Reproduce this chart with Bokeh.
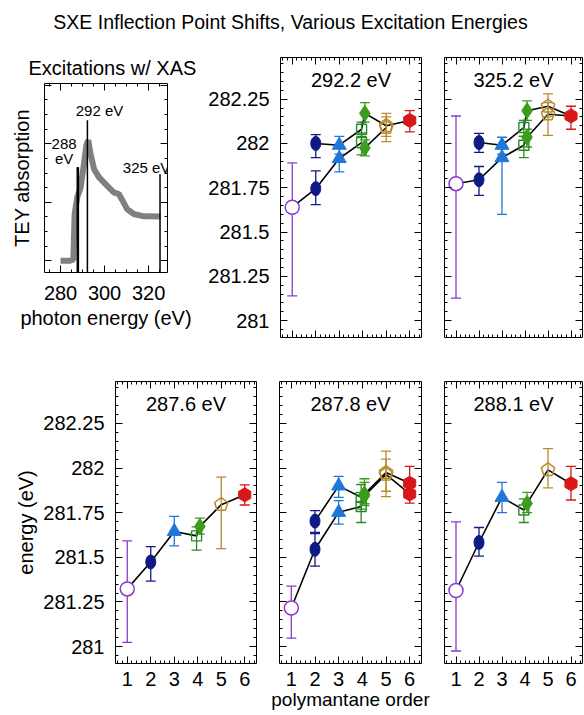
import math
from bokeh.plotting import figure
from bokeh.layouts import column, row
from bokeh.models import FixedTicker, LinearAxis, Label, CustomJSTickFormatter, Title
from bokeh.embed import file_html
from bokeh.resources import INLINE

TITLE = "SXE Inflection Point Shifts, Various Excitation Energies"
FONT = "Liberation Sans"

# ---------------- inset: XAS spectrum ----------------
XAS_ENERGY = [280, 282, 284, 285.8, 286.4, 287.6, 289.1, 290.6, 291.8, 292.6, 293.6, 295.2,
              297.4, 299.7, 302.0, 304.2, 306.5, 308.0, 310.3, 313.3, 317.9, 325.5]
XAS_ABSORPTION = [0, 0, 0, 0.02, 0.8, 1.09, 1.25, 1.65, 1.99, 2.06, 1.83, 1.57,
                  1.43, 1.34, 1.25, 1.17, 1.14, 1.04, 0.88, 0.80, 0.76, 0.755]
EXC_ENERGY = [287.6, 287.8, 288.1, 292.2, 325.2]
EXC_LINE_TOP = [1.6, 1.6, 1.6, 2.4, 1.48]
INSET_X_TICKS = [280, 300, 320]

# ---------------- panels ----------------
ORDER_TICKS = [1, 2, 3, 4, 5, 6]
ENERGY_TICKS = [281, 281.25, 281.5, 281.75, 282, 282.25]

P2922_TITLE = "292.2 eV"
P2922_ORDER = [1, 2, 2, 3, 3, 4, 4, 4, 4, 5, 5, 6]
P2922_ENERGY = [281.64, 282.00, 281.745, 281.99, 281.915, 282.08, 282.005, 282.17, 281.975, 282.10, 282.09, 282.13]
P2922_LOW = [281.14, 281.92, 281.655, 281.94, 281.84, 282.04, 281.935, 282.12, 281.93, 282.04, 282.01, 282.065]
P2922_HIGH = [281.89, 282.05, 281.845, 282.04, 281.98, 282.12, 282.06, 282.23, 282.02, 282.17, 282.15, 282.185]
P2922_KIND = ["1", "2", "2", "3", "3", "4s", "4s", "4d", "4d", "5", "5", "6"]
P2922_PATHS = [[1, 3, 5, 7, 9, 11], [0, 2, 4, 6, 8, 10]]

P3252_TITLE = "325.2 eV"
P3252_ORDER = [1, 2, 2, 3, 3, 4, 4, 4, 4, 5, 5, 6]
P3252_ENERGY = [281.773, 282.005, 281.795, 281.99, 281.92, 282.09, 281.99, 282.185, 282.035, 282.21, 282.165, 282.155]
P3252_LOW = [281.127, 281.95, 281.707, 281.94, 281.60, 282.04, 281.92, 282.13, 281.98, 282.15, 282.045, 282.08]
P3252_HIGH = [282.155, 282.057, 281.87, 282.035, 281.97, 282.13, 282.04, 282.24, 282.08, 282.28, 282.23, 282.21]
P3252_KIND = ["1", "2", "2", "3", "3", "4s", "4s", "4d", "4d", "5", "5", "6"]
P3252_PATHS = [[1, 3, 5, 7, 9, 11], [0, 2, 4, 6, 8, 10, 11]]

P2876_TITLE = "287.6 eV"
P2876_ORDER = [1, 2, 3, 4, 4, 5, 6]
P2876_ENERGY = [281.323, 281.474, 281.645, 281.62, 281.673, 281.795, 281.85]
P2876_LOW = [281.023, 281.367, 281.564, 281.54, 281.63, 281.549, 281.793]
P2876_HIGH = [281.592, 281.56, 281.729, 281.67, 281.72, 281.949, 281.906]
P2876_KIND = ["1", "2", "3", "4s", "4d", "5", "6"]
P2876_PATHS = [[0, 1, 2, 3, 4, 5, 6]]

P2878_TITLE = "287.8 eV"
P2878_ORDER = [1, 2, 2, 3, 3, 4, 4, 4, 4, 5, 5, 6, 6]
P2878_ENERGY = [281.216, 281.703, 281.545, 281.90, 281.752, 281.836, 281.785, 281.855, 281.845, 281.975, 281.965, 281.915, 281.855]
P2878_LOW = [281.047, 281.639, 281.451, 281.836, 281.686, 281.77, 281.695, 281.80, 281.79, 281.84, 281.87, 281.85, 281.803]
P2878_HIGH = [281.338, 281.761, 281.633, 281.953, 281.818, 281.908, 281.85, 281.94, 281.92, 282.095, 282.05, 282.01, 281.93]
P2878_KIND = ["1", "2", "2", "3", "3", "4s", "4s", "4d", "4d", "5", "5", "6", "6"]
P2878_PATHS = [[1, 3, 5, 7, 9, 11], [0, 2, 4, 6, 8, 10, 12]]

P2881_TITLE = "288.1 eV"
P2881_ORDER = [1, 2, 3, 4, 4, 5, 6]
P2881_ENERGY = [281.314, 281.583, 281.836, 281.765, 281.802, 281.99, 281.912]
P2881_LOW = [280.975, 281.507, 281.75, 281.695, 281.75, 281.889, 281.821]
P2881_HIGH = [281.699, 281.667, 281.92, 281.827, 281.864, 282.109, 282.01]
P2881_KIND = ["1", "2", "3", "4s", "4d", "5", "6"]
P2881_PATHS = [[0, 1, 2, 3, 4, 5, 6]]

# ---------------- styles ----------------
COLORS = {"1": "#8a3ad0", "2": "#101a84", "3": "#1f78d8", "4s": "#2a8a2a",
          "4d": "#3c9c1c", "5": "#b88a2e", "6": "#d81818"}
DX = {"1": 0.0, "2": 0.0, "3": 0.0, "4s": -0.05, "4d": 0.09, "5": 0.0, "6": 0.0}
X0, X1 = 0.5, 6.5
Y0, Y1 = 280.905, 282.485


def style_axis(ax, ticker, show_labels, standoff=10, formatter=None):
    ax.ticker = ticker
    ax.major_tick_in = 7
    ax.major_tick_out = 0
    ax.minor_tick_in = 3
    ax.minor_tick_out = 0
    ax.major_tick_line_color = "black"
    ax.minor_tick_line_color = "black"
    ax.axis_line_color = None
    if show_labels:
        if formatter is not None:
            ax.formatter = formatter
        ax.major_label_text_font = FONT
        ax.major_label_text_font_size = "20px"
        ax.major_label_text_color = "black"
        ax.major_label_standoff = standoff
    else:
        ax.formatter = CustomJSTickFormatter(code="return '';")
        ax.major_label_text_font_size = "2px"
        ax.major_label_standoff = 0
    ax.axis_label_text_font = FONT
    ax.axis_label_text_font_size = "20px"
    ax.axis_label_text_font_style = "normal"
    ax.axis_label_text_color = "black"


def x_ticker():
    minor = [round(0.6 + 0.2 * i, 1) for i in range(30)]
    return FixedTicker(ticks=ORDER_TICKS, minor_ticks=minor)


def y_ticker():
    minor = [round(280.95 + 0.05 * i, 2) for i in range(31)]
    return FixedTicker(ticks=ENERGY_TICKS, minor_ticks=minor)


def make_panel(title, order, energy, low, high, kind, paths, width, height, bl, br, bt, bb,
               ylabels, xlabels, ylab=None, xlab=None):
    p = figure(width=width, height=height, x_range=(X0, X1), y_range=(Y0, Y1),
               toolbar_location=None, output_backend="svg", frame_align=False,
               min_border_left=bl, min_border_right=br, min_border_top=bt, min_border_bottom=bb,
               background_fill_color="white", border_fill_color="white")
    p.grid.visible = False
    p.outline_line_color = "black"
    p.outline_line_width = 1
    fmt = CustomJSTickFormatter(code="return String(tick);")
    style_axis(p.xaxis[0], x_ticker(), xlabels, standoff=8)
    style_axis(p.yaxis[0], y_ticker(), ylabels, standoff=11, formatter=fmt)
    if ylab:
        p.yaxis[0].axis_label = ylab
        p.yaxis[0].axis_label_standoff = 3
    if xlab:
        p.xaxis[0].axis_label = xlab
        p.xaxis[0].axis_label_standoff = 0
        p.xaxis[0].axis_label_text_font_size = "19px"
    ra = LinearAxis()
    style_axis(ra, y_ticker(), False)
    p.add_layout(ra, "right")
    ta = LinearAxis()
    style_axis(ta, x_ticker(), False)
    p.add_layout(ta, "above")

    fw = width - bl - br
    fh = height - bt - bb
    sx = fw / (X1 - X0)
    sy = fh / (Y1 - Y0)

    xs = [o + DX[k] for o, k in zip(order, kind)]
    cols = [COLORS[k] for k in kind]
    for path in paths:
        p.line([xs[i] for i in path], [energy[i] for i in path], line_color="black", line_width=1.6)
    p.segment(x0=xs, y0=low, x1=xs, y1=high, line_color=cols, line_width=1.3)
    p.scatter(xs, low, marker="dash", size=10, line_color=cols, line_width=1.3)
    p.scatter(xs, high, marker="dash", size=10, line_color=cols, line_width=1.3)

    for k in ["1", "2", "3", "4s", "4d", "5", "6"]:
        idx = [i for i, kk in enumerate(kind) if kk == k]
        if not idx:
            continue
        kx = [xs[i] for i in idx]
        ky = [energy[i] for i in idx]
        c = COLORS[k]
        if k == "1":
            p.scatter(kx, ky, marker="circle", size=14, line_color=c, line_width=1.5, fill_color="white")
        elif k == "2":
            p.ellipse(kx, ky, width=10, height=14, width_units="screen", height_units="screen",
                      fill_color=c, line_color=c)
        elif k == "3":
            p.scatter(kx, ky, marker="triangle", size=14, line_color=c, fill_color=c)
        elif k == "4s":
            p.scatter(kx, ky, marker="square", size=10, line_color=c, line_width=1.4, fill_color=None)
        elif k == "4d":
            p.scatter(kx, ky, marker="diamond", size=16, line_color=c, fill_color=c)
        elif k == "5":
            r = 7.0
            pxs = [[x + r * math.sin(2 * math.pi * j / 5) / sx for j in range(5)] for x in kx]
            pys = [[y + r * math.cos(2 * math.pi * j / 5) / sy for j in range(5)] for y in ky]
            p.patches(pxs, pys, line_color=c, line_width=1.5, fill_color=None)
        elif k == "6":
            p.scatter(kx, ky, marker="hex", angle=math.pi / 2, size=14, line_color=c, fill_color=c)

    p.add_layout(Label(x=(X0 + X1) / 2, y=Y1, y_offset=-22, text=title, text_align="center",
                       text_baseline="middle", text_font=FONT, text_font_size="20px", text_color="black"))
    return p


# ---------------- header ----------------
header = figure(width=584, height=38, x_range=(0, 584), y_range=(0, 38), min_border=0,
                toolbar_location=None, output_backend="svg", x_axis_type=None, y_axis_type=None,
                outline_line_color=None, frame_align=False)
header.add_layout(Label(x=290, y=17, text=TITLE, text_align="center", text_baseline="middle",
                        text_font=FONT, text_font_size="19.5px", text_color="black"))

# ---------------- inset ----------------
inset = figure(width=205, height=322, x_range=(272.7, 328.6), y_range=(-0.2, 3.03),
               min_border_left=44, min_border_right=38, min_border_top=45, min_border_bottom=88,
               toolbar_location=None, output_backend="svg", frame_align=False)
inset.grid.visible = False
inset.outline_line_color = "black"
INSET_X_MINOR = [275, 285, 290, 295, 305, 310, 315, 325]
style_axis(inset.xaxis[0], FixedTicker(ticks=INSET_X_TICKS, minor_ticks=INSET_X_MINOR), True, standoff=13)
inset.xaxis[0].axis_label = "photon energy (eV)"
inset.xaxis[0].axis_label_standoff = 4
iy_minor = [round(-0.25 + 0.25 * i, 2) for i in range(14)]
style_axis(inset.yaxis[0], FixedTicker(ticks=[0, 1, 2, 3], minor_ticks=iy_minor), False)
inset.yaxis[0].axis_label = "TEY absorption"
inset.yaxis[0].axis_label_standoff = 12
ira = LinearAxis()
style_axis(ira, FixedTicker(ticks=[0, 1, 2, 3], minor_ticks=iy_minor), False)
inset.add_layout(ira, "right")
ita = LinearAxis()
style_axis(ita, FixedTicker(ticks=INSET_X_TICKS, minor_ticks=INSET_X_MINOR), False)
inset.add_layout(ita, "above")
inset.add_layout(Title(text="Excitations w/ XAS", align="left", offset=-16, standoff=9,
                       text_font=FONT, text_font_size="20px", text_font_style="normal",
                       text_color="black"), "above")
inset.line(XAS_ENERGY, XAS_ABSORPTION, line_color="#808080", line_width=6)
inset.segment(x0=EXC_ENERGY, y0=[-0.2] * len(EXC_ENERGY), x1=EXC_ENERGY, y1=EXC_LINE_TOP,
              line_color="black", line_width=1.5)
for txt, lx, ly in [("288", 281.6, 2.0), ("eV", 281.6, 1.75), ("292 eV", 297.7, 2.57), ("325 eV", 319.1, 1.59)]:
    inset.add_layout(Label(x=lx, y=ly, text=txt, text_align="center", text_baseline="middle",
                           text_font=FONT, text_font_size="15px", text_color="black"))

# ---------------- panels ----------------
p2922 = make_panel(P2922_TITLE, P2922_ORDER, P2922_ENERGY, P2922_LOW, P2922_HIGH, P2922_KIND, P2922_PATHS,
                   227, 322, 74, 11, 19, 23, True, False)
p3252 = make_panel(P3252_TITLE, P3252_ORDER, P3252_ENERGY, P3252_LOW, P3252_HIGH, P3252_KIND, P3252_PATHS,
                   152, 322, 12, 2, 19, 23, False, False)
p2876 = make_panel(P2876_TITLE, P2876_ORDER, P2876_ENERGY, P2876_LOW, P2876_HIGH, P2876_KIND, P2876_PATHS,
                   267, 355, 115, 11, 21, 52, True, True, ylab="energy (eV)")
p2878 = make_panel(P2878_TITLE, P2878_ORDER, P2878_ENERGY, P2878_LOW, P2878_HIGH, P2878_KIND, P2878_PATHS,
                   165, 355, 12, 11, 21, 52, False, True, xlab="polymantane order")
p2881 = make_panel(P2881_TITLE, P2881_ORDER, P2881_ENERGY, P2881_LOW, P2881_HIGH, P2881_KIND, P2881_PATHS,
                   152, 355, 12, 2, 21, 52, False, True)

layout = column(header, row(inset, p2922, p3252), row(p2876, p2878, p2881))
open("out.html", "w").write(file_html(layout, INLINE))
